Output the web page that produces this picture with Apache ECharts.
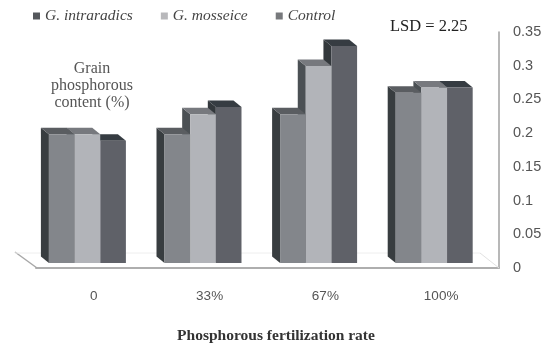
<!DOCTYPE html>
<html>
<head>
<meta charset="utf-8">
<title>Grain phosphorous content</title>
<script src="https://cdn.jsdelivr.net/npm/echarts@6/dist/echarts.min.js"></script>
<style>html,body{margin:0;padding:0;background:#fff}#chart{width:545px;height:347px}</style>
</head>
<body>
<div id="chart"></div>
<script>
// Fertilization rates and measured grain phosphorous per inoculation treatment
const categories = ['0', '33%', '67%', '100%'];
const seriesNames = ['G. intraradics', 'G. mosseice', 'Control'];
const intraradics = [0.198, 0.198, 0.229, 0.262];
const mosseice = [0.198, 0.229, 0.303, 0.27];
const control = [0.188, 0.24, 0.334, 0.27];

// Face shades of each column: front, top, left side
const faces = [
  { front: '#83868b', top: '#5a5d61', side: '#383d40' },
  { front: '#b2b4b9', top: '#77797e', side: '#4b5054' },
  { front: '#5f6168', top: '#363c42', side: '#33383c' }
];
const legendColors = ['#55585c', '#b8b8bb', '#77797c'];
const depthX = 8, depthY = 6.5;

function columnRenderer(seriesIndex) {
  return function (params, api) {
    const band = api.size([1, 0])[0];
    const barWidth = band * 0.222;
    const base = api.coord([api.value(0), 0]);
    const head = api.coord([api.value(0), api.value(1)]);
    const x0 = base[0] + (seriesIndex - 1.5) * barWidth;
    const x1 = x0 + barWidth;
    const yTop = head[1], yBase = base[1];
    const shade = faces[seriesIndex];
    const poly = (points, fill) => ({
      type: 'polygon',
      shape: { points },
      style: { fill, stroke: null }
    });
    return {
      type: 'group',
      children: [
        poly([[x0 - depthX, yTop - depthY], [x0, yTop], [x0, yBase], [x0 - depthX, yBase - depthY]], shade.side),
        poly([[x0 - depthX, yTop - depthY], [x1 - depthX, yTop - depthY], [x1, yTop], [x0, yTop]], shade.top),
        poly([[x0, yTop], [x1, yTop], [x1, yBase], [x0, yBase]], shade.front)
      ]
    };
  };
}

function columnSeries(name, values, index) {
  return {
    name,
    type: 'custom',
    xAxisIndex: 1,
    yAxisIndex: 1,
    z: 6 - index,
    clip: false,
    silent: true,
    itemStyle: { color: faces[index].front },
    encode: { x: 0, y: 1 },
    data: values.map((v, i) => [i, v]),
    renderItem: columnRenderer(index)
  };
}

const chart = echarts.init(document.getElementById('chart'), null, { renderer: 'canvas' });
chart.setOption({
  animation: false,
  backgroundColor: '#ffffff',
  legend: {
    left: 28,
    top: 3,
    itemWidth: 7,
    itemHeight: 7,
    itemGap: 28,
    icon: 'rect',
    selectedMode: false,
    textStyle: {
      fontFamily: 'Liberation Serif',
      fontStyle: 'italic',
      fontSize: 15.5,
      color: '#444'
    },
    data: seriesNames.map((name, i) => ({ name, itemStyle: { color: legendColors[i] } }))
  },
  title: {
    text: 'Phosphorous fertilization rate',
    left: 276,
    top: 328,
    textAlign: 'center',
    padding: 0,
    textStyle: {
      fontFamily: 'Liberation Serif',
      fontWeight: 'bold',
      fontSize: 15.5,
      color: '#333'
    }
  },
  grid: [
    { left: 36, right: 46, top: 32, bottom: 79 },
    { left: 29.6, right: 53, top: 35.5, bottom: 84 }
  ],
  xAxis: [
    {
      type: 'category',
      gridIndex: 0,
      data: categories,
      axisTick: { show: false },
      axisLine: { lineStyle: { color: '#aeaeae', width: 2 } },
      axisLabel: {
        margin: 21,
        fontFamily: 'Liberation Sans',
        fontSize: 13.5,
        color: '#555'
      }
    },
    { type: 'category', gridIndex: 1, data: categories, show: false }
  ],
  yAxis: [
    {
      type: 'value',
      gridIndex: 0,
      position: 'right',
      min: 0,
      max: 0.35,
      interval: 0.05,
      splitLine: { show: false },
      axisTick: { show: false },
      axisLine: { show: true, lineStyle: { color: '#a0a0a0', width: 1.5 } },
      axisLabel: {
        margin: 14,
        align: 'left',
        fontFamily: 'Liberation Sans',
        fontSize: 14.5,
        color: '#555'
      }
    },
    { type: 'value', gridIndex: 1, min: 0, max: 0.35, interval: 0.05, show: false }
  ],
  series: [
    columnSeries(seriesNames[0], intraradics, 0),
    columnSeries(seriesNames[1], mosseice, 1),
    columnSeries(seriesNames[2], control, 2)
  ],
  graphic: [
    // Floor of the plot: left and right edges receding to the faint back line
    { type: 'line', z: 1, shape: { x1: 15, y1: 252, x2: 37, y2: 268 }, style: { stroke: '#a8a8a8', lineWidth: 1.5 } },
    { type: 'line', z: 1, shape: { x1: 15, y1: 253, x2: 480, y2: 253 }, style: { stroke: '#eeeeee', lineWidth: 1 } },
    { type: 'line', z: 1, shape: { x1: 480, y1: 253, x2: 499, y2: 268 }, style: { stroke: '#e2e2e2', lineWidth: 1 } },
    {
      type: 'text', z: 10,
      style: {
        x: 92, y: 60, text: 'Grain\nphosphorous\ncontent (%)', align: 'center',
        font: '16px "Liberation Serif"', fill: '#555', lineHeight: 17
      }
    },
    {
      type: 'text', z: 10,
      style: {
        x: 390, y: 18, text: 'LSD = 2.25',
        font: '16.5px "Liberation Serif"', fill: '#222'
      }
    }
  ]
});
</script>
</body>
</html>
